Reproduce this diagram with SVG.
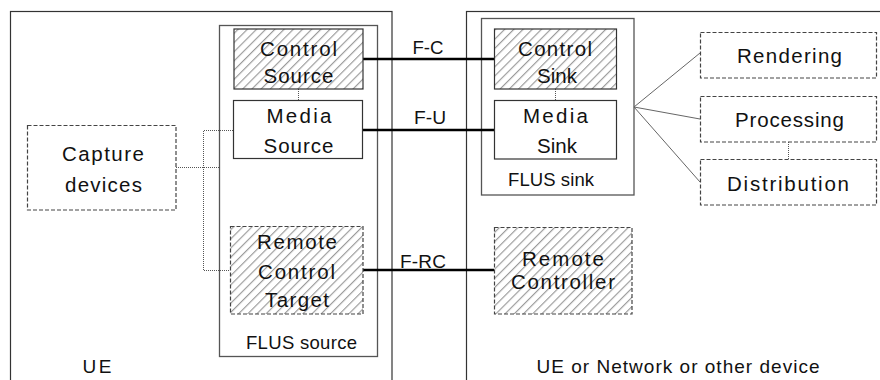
<svg xmlns="http://www.w3.org/2000/svg" width="880" height="380" viewBox="0 0 880 380">
<defs>
<pattern id="hatch" patternUnits="userSpaceOnUse" width="6.5" height="6.5" patternTransform="rotate(45)">
<rect width="6.5" height="6.5" fill="#fff"/>
<line x1="0" y1="0" x2="0" y2="6.5" stroke="#9a9a9a" stroke-width="2.3"/>
</pattern>
</defs>
<style>
text{font-family:"Liberation Sans",Arial,sans-serif;font-size:20.5px;fill:#111;text-anchor:middle}
.small{font-size:18.5px}
.label{font-size:19px}
.container{fill:none;stroke:#333;stroke-width:1.2}
.func{fill:none;stroke:#555;stroke-width:1.3}
.solid{fill:#fff;stroke:#333;stroke-width:1.2}
.hatch{fill:url(#hatch);stroke:#333;stroke-width:1.2}
.dash{fill:#fff;stroke:#444;stroke-width:1.2;stroke-dasharray:4 2}
.dashhatch{fill:url(#hatch);stroke:#444;stroke-width:1.2;stroke-dasharray:4 2}
.thick{stroke:#000;stroke-width:2.5;fill:none}
.dot{stroke:#555;stroke-width:1;stroke-dasharray:1 1;fill:none}
.thin{stroke:#666;stroke-width:1;fill:none}
</style>
<g id="ue">
<rect class="container" x="10.5" y="11.5" width="381.5" height="380"/>
<text class="label" x="97" y="373" textLength="29" lengthAdjust="spacing">UE</text>
</g>
<g id="other-device">
<rect class="container" x="466.5" y="11.5" width="420" height="380"/>
<text class="label" x="678" y="373" textLength="283" lengthAdjust="spacing">UE or Network or other device</text>
</g>
<g id="flus-source">
<rect class="func" x="219.5" y="25.5" width="158" height="331"/>
<text class="small" x="301.5" y="349" textLength="111" lengthAdjust="spacing">FLUS source</text>
</g>
<g id="flus-sink">
<rect class="func" x="481.5" y="18.5" width="152.5" height="176.5"/>
<text class="small" x="551" y="186" textLength="86" lengthAdjust="spacing">FLUS sink</text>
</g>
<g id="connectors">
<line class="dot" x1="298.5" y1="89" x2="298.5" y2="100"/>
<line class="dot" x1="555.5" y1="89" x2="555.5" y2="100"/>
<line class="dot" x1="788.5" y1="142" x2="788.5" y2="159"/>
<line class="dot" x1="176" y1="167.5" x2="219" y2="167.5"/>
<polyline class="dot" points="233,130.5 203.5,130.5 203.5,270.5 230,270.5"/>
<line class="thick" x1="363" y1="59" x2="494" y2="59"/>
<line class="thick" x1="362" y1="130" x2="494" y2="130"/>
<line class="thick" x1="363" y1="270" x2="494" y2="270"/>
<line class="thin" x1="634" y1="107" x2="700" y2="53"/>
<line class="thin" x1="634" y1="107" x2="700" y2="119"/>
<line class="thin" x1="634" y1="107" x2="700" y2="182"/>
<text class="label" x="428" y="54" textLength="31" lengthAdjust="spacingAndGlyphs">F-C</text>
<text class="label" x="430" y="124" textLength="32" lengthAdjust="spacingAndGlyphs">F-U</text>
<text class="label" x="423" y="268" textLength="46" lengthAdjust="spacing">F-RC</text>
</g>
<g id="control-source">
<rect class="hatch" x="234" y="29" width="129" height="60"/>
<text x="298.5" y="56" textLength="77" lengthAdjust="spacing">Control</text>
<text x="298.5" y="83" textLength="70" lengthAdjust="spacing">Source</text>
</g>
<g id="media-source">
<rect class="solid" x="233.5" y="100.5" width="129" height="58"/>
<text x="299" y="123" textLength="65" lengthAdjust="spacing">Media</text>
<text x="298.5" y="153" textLength="70" lengthAdjust="spacing">Source</text>
</g>
<g id="remote-control-target">
<rect class="dashhatch" x="230.5" y="226.5" width="132.5" height="87.5"/>
<text x="297" y="249" textLength="80" lengthAdjust="spacing">Remote</text>
<text x="296.5" y="279" textLength="77" lengthAdjust="spacing">Control</text>
<text x="297" y="307" textLength="64" lengthAdjust="spacing">Target</text>
</g>
<g id="capture-devices">
<rect class="dash" x="27.5" y="125.5" width="148.5" height="84.5"/>
<text x="103" y="161" textLength="82" lengthAdjust="spacing">Capture</text>
<text x="103.5" y="192" textLength="77" lengthAdjust="spacing">devices</text>
</g>
<g id="control-sink">
<rect class="hatch" x="494.5" y="29" width="122" height="60"/>
<text x="555" y="56" textLength="74" lengthAdjust="spacing">Control</text>
<text x="557" y="83" textLength="40" lengthAdjust="spacing">Sink</text>
</g>
<g id="media-sink">
<rect class="solid" x="494.5" y="100.5" width="122" height="58.5"/>
<text x="555.5" y="123" textLength="65" lengthAdjust="spacing">Media</text>
<text x="557" y="153" textLength="40" lengthAdjust="spacing">Sink</text>
</g>
<g id="remote-controller">
<rect class="dashhatch" x="494.5" y="227.5" width="137.5" height="86.5"/>
<text x="563" y="266" textLength="82" lengthAdjust="spacing">Remote</text>
<text x="563" y="289" textLength="104" lengthAdjust="spacing">Controller</text>
</g>
<g id="rendering">
<rect class="dash" x="700.5" y="32.5" width="176" height="45.5"/>
<text x="789.5" y="63" textLength="105" lengthAdjust="spacing">Rendering</text>
</g>
<g id="processing">
<rect class="dash" x="700.5" y="96.5" width="176" height="45.5"/>
<text x="789.5" y="127" textLength="109" lengthAdjust="spacing">Processing</text>
</g>
<g id="distribution">
<rect class="dash" x="700.5" y="159.5" width="176" height="45.5"/>
<text x="788" y="191" textLength="122" lengthAdjust="spacing">Distribution</text>
</g>
</svg>
